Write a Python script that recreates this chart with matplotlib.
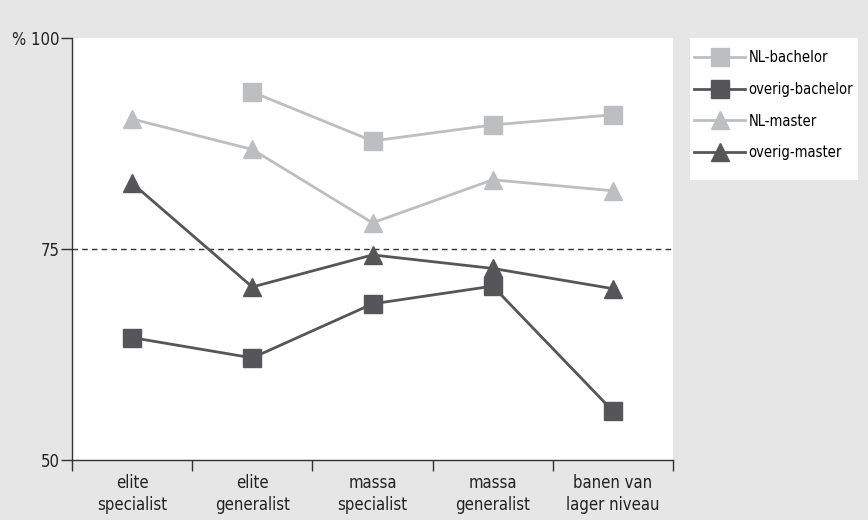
import numpy as np
import matplotlib.pyplot as plt
from matplotlib.patches import Rectangle

plt.rcParams['font.family'] = ['DejaVu Sans']
plt.rcParams['font.stretch'] = 'condensed'

categories = ['elite\nspecialist', 'elite\ngeneralist', 'massa\nspecialist', 'massa\ngeneralist', 'banen van\nlager niveau']
nl_bachelor = [np.nan, 93.6, 87.8, 89.7, 90.9]
overig_bachelor = [64.5, 62.1, 68.5, 70.6, 55.8]
nl_master = [90.4, 86.8, 78.1, 83.2, 81.9]
overig_master = [82.8, 70.5, 74.3, 72.7, 70.3]

light = '#bdbec0'
dark = '#565658'
bg = '#e6e6e7'

W, H = 868, 520
fig = plt.figure(figsize=(W/100, H/100), dpi=100, facecolor=bg)
ax = fig.add_axes([72/W, 60/H, 601/W, 422/H])
ax.set_facecolor('white')

x = np.arange(len(categories)) + 0.5
ax.axhline(75, color='#333333', lw=1, ls=(0, (4, 3)), zorder=1)

ax.plot(x, nl_bachelor, color=light, lw=2, marker='s', ms=13, label='NL-bachelor', zorder=3)
ax.plot(x, overig_bachelor, color=dark, lw=2, marker='s', ms=13, label='overig-bachelor', zorder=3)
ax.plot(x, nl_master, color=light, lw=2, marker='^', ms=13, label='NL-master', zorder=3)
ax.plot(x, overig_master, color=dark, lw=2, marker='^', ms=13, label='overig-master', zorder=3)

ax.set_xlim(0, 5)
ax.set_ylim(50, 100)
ax.set_xticks(np.arange(6))
ax.set_xticklabels([])
ax.set_xticks(x, minor=True)
ax.set_xticklabels(categories, minor=True, fontsize=12, color='#222222', linespacing=1.3)
ax.tick_params(axis='x', which='minor', length=0, pad=10)
ax.tick_params(axis='x', which='major', length=8, width=1, color='#333333')
ax.set_yticks([50, 75, 100])
ax.set_yticklabels(['50', '75', '% 100'], fontsize=12, color='#222222')
ax.tick_params(axis='y', length=8, width=1, color='#333333', pad=1)

for s in ['top', 'right']:
    ax.spines[s].set_visible(False)
for s in ['left', 'bottom']:
    ax.spines[s].set_color('#333333')
    ax.spines[s].set_linewidth(1)

# white legend panel
fig.patches.append(Rectangle((690/W, 1 - 180/H), 168/W, 142/H, transform=fig.transFigure,
                             facecolor='white', edgecolor='none', zorder=0))
fig.legend(loc='upper left', bbox_to_anchor=(694/W, 1 - 50/H), frameon=False,
           fontsize=10.5, handlelength=3.5, borderpad=0, labelspacing=1.15,
           handletextpad=0.25, borderaxespad=0, markerscale=0.95)

plt.savefig('out.png', dpi=100, facecolor=bg)
